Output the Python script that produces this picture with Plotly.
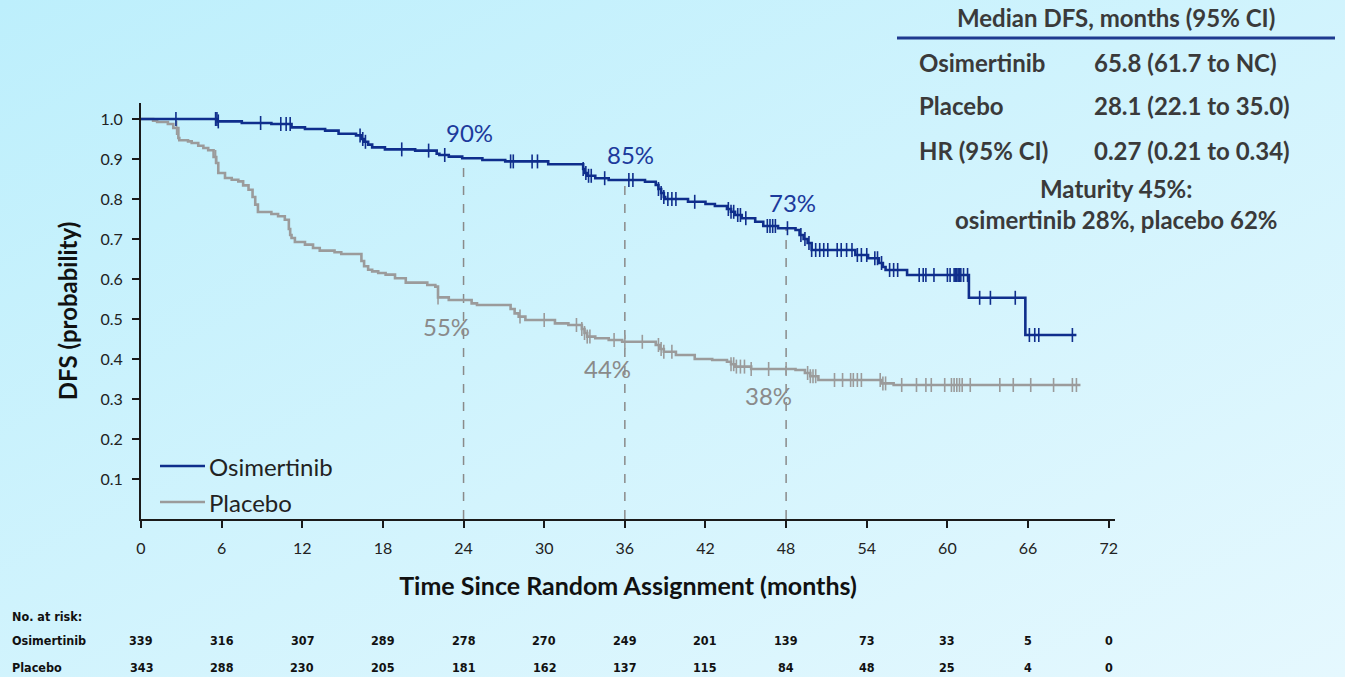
import base64
import numpy as np
import plotly.graph_objects as go

# ---------------- data ----------------
osi_t = [0, 5.7, 7.5, 9.7, 11.2, 12.2, 13.7, 14.7, 16.0, 16.4, 16.6, 16.9, 17.2, 18.15,
         20.4, 22.0, 22.2, 22.9, 23.9, 25.4, 27.1, 30.3, 32.9, 33.0, 33.2, 33.8, 34.8,
         37.5, 38.3, 38.5, 38.7, 38.9, 39.0, 40.7, 42.0, 42.7, 43.6, 43.9, 44.2, 44.7,
         45.7, 46.3, 47.4, 48.7, 49.0, 49.3, 49.6, 49.9, 53.15, 54.1, 54.9, 55.2, 55.4,
         57.0, 61.6, 65.8]
osi_s = [1.0, 0.994, 0.99, 0.9875, 0.979, 0.975, 0.971, 0.963, 0.959, 0.95, 0.943, 0.936,
         0.929, 0.924, 0.921, 0.913, 0.91, 0.906, 0.902, 0.8975, 0.894, 0.887, 0.875, 0.865,
         0.858, 0.852, 0.8475, 0.843, 0.835, 0.825, 0.815, 0.805, 0.80, 0.793, 0.7875,
         0.7825, 0.775, 0.768, 0.76, 0.752, 0.743, 0.7325, 0.727, 0.7225, 0.71, 0.70, 0.69,
         0.6725, 0.66, 0.652, 0.64, 0.63, 0.6225, 0.61, 0.553, 0.46]
osi_end = 69.6

pla_t = [0, 0.9, 1.2, 2.0, 2.4, 2.78, 2.85, 3.5, 3.77, 4.26, 4.64, 5.0, 5.4, 5.6, 5.75,
         6.25, 6.75, 7.24, 7.6, 8.0, 8.3, 8.5, 8.7, 9.7, 10.2, 10.7, 11.0, 11.1, 11.2, 11.45,
         12.2, 12.8, 13.3, 14.4, 14.9, 16.4, 16.6, 16.9, 17.2, 17.65, 18.2, 18.9, 19.7,
         21.3, 21.9, 22.1, 22.9, 24.6, 25.0, 27.5, 27.8, 28.1, 28.6, 30.8, 31.8, 32.8, 33.0,
         33.2, 33.8, 34.8, 35.8, 38.3, 38.6, 38.9, 39.8, 41.2, 42.5, 43.6, 43.9, 44.2, 45.4,
         48.7, 49.4, 49.8, 50.4, 55.1, 56.0]
pla_s = [1.0, 0.996, 0.9925, 0.9875, 0.9775, 0.9525, 0.947, 0.944, 0.94, 0.933, 0.9275,
         0.922, 0.905, 0.89, 0.865, 0.8525, 0.848, 0.844, 0.834, 0.823, 0.805, 0.786, 0.7675,
         0.7625, 0.757, 0.748, 0.725, 0.71, 0.7025, 0.6925, 0.686, 0.6775, 0.671, 0.667,
         0.6625, 0.645, 0.632, 0.623, 0.619, 0.615, 0.611, 0.602, 0.591, 0.585, 0.581, 0.554,
         0.5475, 0.539, 0.535, 0.525, 0.514, 0.506, 0.4975, 0.489, 0.485, 0.475, 0.465,
         0.456, 0.452, 0.4475, 0.443, 0.435, 0.425, 0.418, 0.41, 0.40, 0.3975, 0.393, 0.387,
         0.381, 0.375, 0.3725, 0.365, 0.357, 0.3475, 0.339, 0.335]
pla_end = 69.9

osi_cens = [2.6, 5.55, 5.65, 5.75, 8.9, 10.4, 10.8, 11.1, 16.3, 16.5, 16.7, 19.4, 21.4, 22.6,
            27.5, 27.7, 29.1, 29.5, 32.9, 33.1, 33.3, 33.5, 34.5, 36.3, 36.6, 38.5, 38.7,
            38.9, 39.2, 39.5, 39.8, 41.2, 43.7, 43.9, 44.1, 44.4, 44.6, 45.0, 46.6, 46.8,
            47.0, 47.2, 48.1, 49.1, 49.4, 49.7, 49.9, 50.2, 50.5, 50.8, 51.1, 51.8, 52.1,
            52.5, 52.9, 53.3, 53.6, 54.0, 54.6, 54.8, 55.1, 55.7, 56.0, 56.3, 57.9, 58.2,
            58.4, 59.0, 60.0, 60.2, 60.5, 60.6, 60.7, 60.8, 60.9, 61.0, 61.2, 61.5, 62.4,
            63.2, 65.05, 66.1, 66.5, 66.8, 69.3]
pla_cens = [2.65, 5.55, 22.1, 28.2, 30.0, 32.4, 32.8, 33.0, 33.2, 33.4, 35.2, 36.0, 37.3,
            38.5, 38.7, 38.9, 39.5, 43.9, 44.1, 44.3, 44.6, 44.9, 45.4, 46.7, 48.0, 49.6,
            49.8, 50.0, 50.2, 51.6, 52.2, 52.8, 53.0, 53.3, 53.6, 55.0, 55.2, 55.4, 56.6,
            57.7, 58.4, 58.8, 59.8, 60.3, 60.5, 60.7, 60.9, 61.1, 61.7, 63.9, 64.9, 66.2,
            67.9, 69.3, 69.6]

milestones = [24, 36, 48]
osi_labels = ["90%", "85%", "73%"]
pla_labels = ["55%", "44%", "38%"]

x_ticks = [0, 6, 12, 18, 24, 30, 36, 42, 48, 54, 60, 66, 72]
y_ticks = [0.1, 0.2, 0.3, 0.4, 0.5, 0.6, 0.7, 0.8, 0.9, 1.0]
y_tick_text = ["0.1", "0.2", "0.3", "0.4", "0.5", "0.6", "0.7", "0.8", "0.9", "1.0"]

risk_osi = [339, 316, 307, 289, 278, 270, 249, 201, 139, 73, 33, 5, 0]
risk_pla = [343, 288, 230, 205, 181, 162, 137, 115, 84, 48, 25, 4, 0]

series_names = ["Osimertinib", "Placebo"]
table_rows = [("Osimertinib", "65.8 (61.7 to NC)"),
              ("Placebo", "28.1 (22.1 to 35.0)"),
              ("HR (95% CI)", "0.27 (0.21 to 0.34)")]

# ---------------- styling / layout helpers ----------------
BLUE = "#0f2e8c"
GREY = "#9b9b9b"
FONT = "Lato, 'Open Sans', sans-serif"
NARROW = "'Liberation Sans Narrow', 'Arial Narrow', 'DejaVu Sans Condensed', sans-serif"
TXT = "#3a3a3a"

W, H = 1345, 677
L, R, T, B = 141, 230, 103, 158
PW, PH = W - L - R, H - T - B
PX_PER_MONTH = 13.44


def pxp(x):
    return (x - L) / PW


def pyp(y):
    return (H - B - y) / PH


def surv(times, values, t):
    idx = np.searchsorted(np.asarray(times), t, side="right") - 1
    return float(np.asarray(values)[idx])


fig = go.Figure()

# milestone dashed lines
dx, dy = [], []
for m in milestones:
    dx += [m, m, None]
    dy += [0, surv(osi_t, osi_s, m), None]
fig.add_trace(go.Scatter(x=dx, y=dy, mode="lines", showlegend=False, hoverinfo="skip",
                         line=dict(color="#8a8a8a", width=1.5, dash="dash")))

# KM curves
fig.add_trace(go.Scatter(x=pla_t + [pla_end], y=pla_s + [pla_s[-1]], mode="lines",
                         line=dict(color=GREY, width=2.6, shape="hv"), name="Placebo",
                         showlegend=False))
fig.add_trace(go.Scatter(x=osi_t + [osi_end], y=osi_s + [osi_s[-1]], mode="lines",
                         line=dict(color=BLUE, width=2.6, shape="hv"), name="Osimertinib",
                         showlegend=False))

# censor marks
fig.add_trace(go.Scatter(x=pla_cens, y=[surv(pla_t, pla_s, t) for t in pla_cens],
                         mode="markers", showlegend=False, hoverinfo="skip",
                         marker=dict(symbol="line-ns", size=10,
                                     line=dict(color=GREY, width=1.6))))
fig.add_trace(go.Scatter(x=osi_cens, y=[surv(osi_t, osi_s, t) for t in osi_cens],
                         mode="markers", showlegend=False, hoverinfo="skip",
                         marker=dict(symbol="line-ns", size=10,
                                     line=dict(color=BLUE, width=1.6))))

annotations = []
shapes = []

# legend (drawn manually to match the long legend lines)
for name, col, ypix in zip(series_names, (BLUE, GREY), (466, 502)):
    shapes.append(dict(type="line", xref="paper", yref="paper", x0=pxp(160), x1=pxp(205),
                       y0=pyp(ypix), y1=pyp(ypix), line=dict(color=col, width=2.6)))
    annotations.append(dict(xref="paper", yref="paper", x=pxp(207), y=pyp(ypix), text=name,
                            showarrow=False, xanchor="left", yanchor="middle",
                            font=dict(family=FONT, size=24, color="#222")))

# milestone labels
for m, lab in zip(milestones, osi_labels):
    annotations.append(dict(x=m + 0.45, y=surv(osi_t, osi_s, m) + 0.065, text=lab,
                            showarrow=False, xanchor="center", yanchor="middle",
                            font=dict(family=FONT, size=24, color="#1c3a9c")))
for m, lab in zip(milestones, pla_labels):
    annotations.append(dict(x=m - 1.3, y=surv(pla_t, pla_s, m) - 0.067, text=lab,
                            showarrow=False, xanchor="center", yanchor="middle",
                            font=dict(family=FONT, size=24, color="#8a8a8a")))

# risk table
RF = dict(family=NARROW, size=12.5, color="#111", weight="bold")
annotations.append(dict(xref="paper", yref="paper", x=pxp(10), y=pyp(616), text="No. at risk:",
                        showarrow=False, xanchor="left", yanchor="middle", font=RF))
for name, vals, ypix in zip(series_names, (risk_osi, risk_pla), (640, 667)):
    annotations.append(dict(xref="paper", yref="paper", x=pxp(10), y=pyp(ypix), text=name,
                            showarrow=False, xanchor="left", yanchor="middle", font=RF))
    for m, v in zip(x_ticks, vals):
        annotations.append(dict(xref="x", yref="paper", x=m, y=pyp(ypix), text=str(v),
                                showarrow=False, xanchor="center", yanchor="middle", font=RF))

# median table
TF = dict(family=FONT, size=24, color=TXT, weight="bold")
annotations.append(dict(xref="paper", yref="paper", x=pxp(1116), y=pyp(17),
                        text="Median DFS, months (95% CI)", showarrow=False,
                        xanchor="center", yanchor="middle", font=TF))
for (lab, val), ypix in zip(table_rows, (62, 105, 150)):
    annotations.append(dict(xref="paper", yref="paper", x=pxp(917), y=pyp(ypix), text=lab,
                            showarrow=False, xanchor="left", yanchor="middle", font=TF))
    annotations.append(dict(xref="paper", yref="paper", x=pxp(1092), y=pyp(ypix), text=val,
                            showarrow=False, xanchor="left", yanchor="middle", font=TF))
for txt, ypix in (("Maturity 45%:", 188), ("osimertinib 28%, placebo 62%", 219)):
    annotations.append(dict(xref="paper", yref="paper", x=pxp(1116), y=pyp(ypix), text=txt,
                            showarrow=False, xanchor="center", yanchor="middle", font=TF))

shapes.append(dict(type="line", xref="paper", yref="paper", x0=pxp(897), x1=pxp(1335),
                   y0=pyp(38), y1=pyp(38), line=dict(color="#1f3a8f", width=3)))

svg = ('<svg xmlns="http://www.w3.org/2000/svg" width="1345" height="677">'
       '<defs><linearGradient id="g" x1="0" y1="0" x2="1" y2="1">'
       '<stop offset="0" stop-color="#bdeffc"/><stop offset="1" stop-color="#e5f8fe"/>'
       '</linearGradient></defs><rect width="1345" height="677" fill="url(#g)"/></svg>')
bg_src = "data:image/svg+xml;base64," + base64.b64encode(svg.encode()).decode()

fig.update_layout(
    width=W, height=H,
    margin=dict(l=L, r=R, t=T, b=B, pad=0),
    paper_bgcolor="#d3f3fd", plot_bgcolor="rgba(0,0,0,0)",
    images=[dict(source=bg_src, xref="paper", yref="paper", x=pxp(0), y=pyp(0),
                 sizex=W / PW, sizey=H / PH, xanchor="left", yanchor="top",
                 sizing="stretch", layer="below")],
    font=dict(family=FONT, color="#222"),
    showlegend=False,
    xaxis=dict(range=[0, PW / PX_PER_MONTH], tickvals=x_ticks, showgrid=False, zeroline=False,
               showline=True, linecolor="#1a1a1a", linewidth=2, ticks="outside", ticklen=7,
               tickwidth=1.5, tickcolor="#1a1a1a", ticklabelstandoff=7,
               tickfont=dict(family=FONT, size=16, color="#222"),
               title=dict(text="Time Since Random Assignment (months)", standoff=21,
                          font=dict(family=FONT, size=25, color="#111", weight="bold"))),
    yaxis=dict(range=[0, PH / 400], tickvals=y_ticks, ticktext=y_tick_text, showgrid=False,
               zeroline=False, showline=True, linecolor="#1a1a1a", linewidth=2,
               ticks="outside", ticklen=7, tickwidth=1.5, tickcolor="#1a1a1a",
               ticklabelstandoff=6, tickfont=dict(family=FONT, size=16, color="#222"),
               title=dict(text="DFS (probability)", standoff=16,
                          font=dict(family=FONT, size=24, color="#111", weight="bold"))),
    annotations=annotations,
    shapes=shapes,
)

fig.write_html("out.html", config={"displayModeBar": False},
               post_script="document.body.style.margin='0px';")
